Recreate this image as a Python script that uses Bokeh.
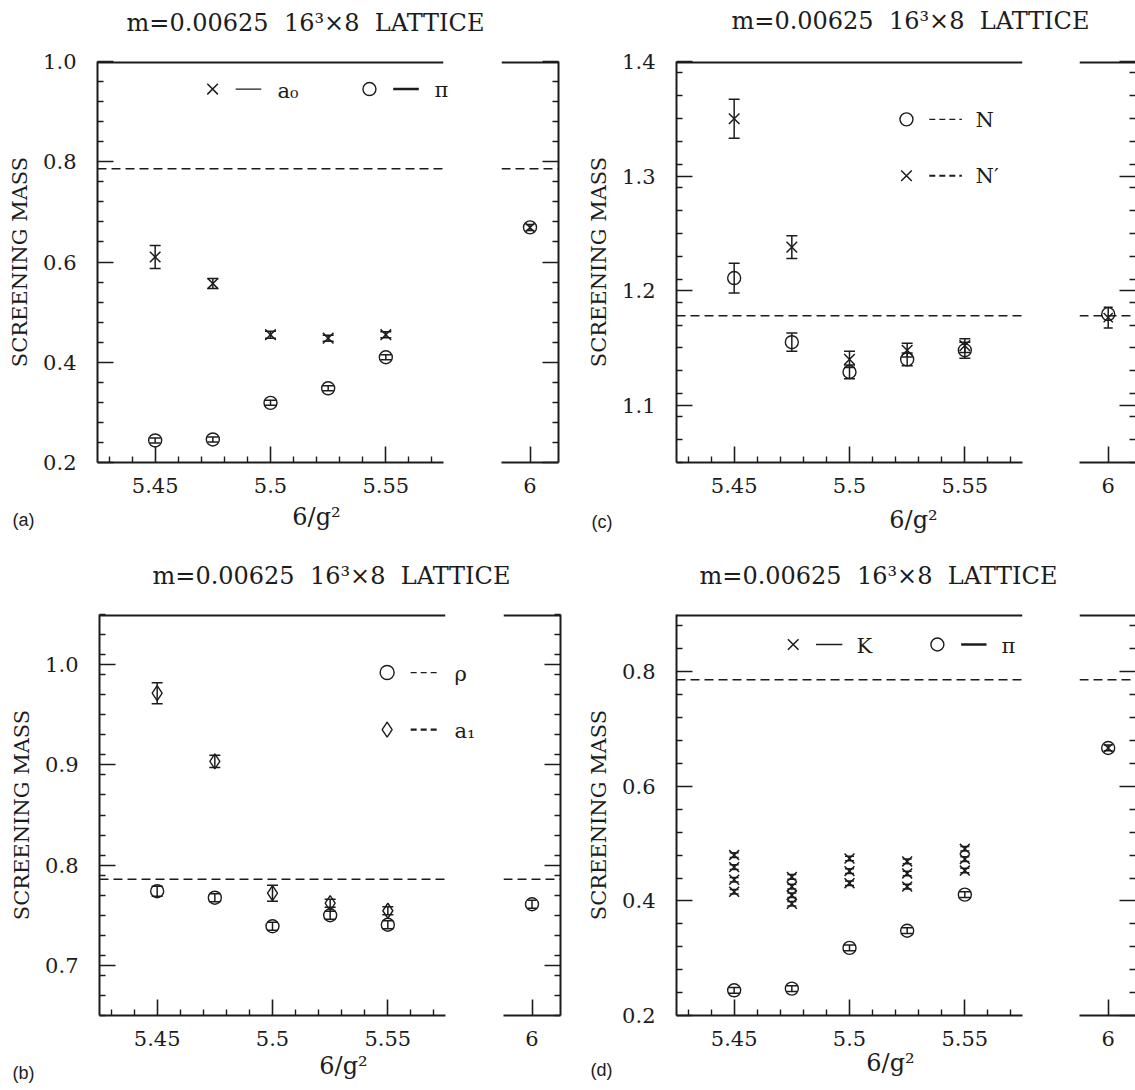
from bokeh.plotting import figure
from bokeh.models import (LinearAxis, FixedTicker, Range1d, Whisker, TeeHead,
                          ColumnDataSource, Span, Label, CustomJSTickFormatter)
from bokeh.layouts import row, column
from bokeh.embed import file_html
from bokeh.resources import INLINE

INK = "#1c1c1c"
SERIF = "DejaVu Serif"
SANS = "Liberation Sans"

# ---------------- data ----------------
beta = [5.45, 5.475, 5.5, 5.525, 5.55]
beta_side = [6.0]

# (a) a0 and pi
a0_mass = [0.610, 0.557, 0.455, 0.448, 0.455]
a0_err = [0.023, 0.010, 0.007, 0.006, 0.006]
pi_mass = [0.244, 0.246, 0.319, 0.348, 0.410]
pi_err = [0.005, 0.005, 0.005, 0.005, 0.005]
a0_side = [0.669]
a0_side_err = [0.006]
pi_side = [0.669]

# (c) N and N'
N_mass = [1.211, 1.155, 1.129, 1.140, 1.148]
N_err = [0.013, 0.008, 0.006, 0.0055, 0.007]
Np_mass = [1.350, 1.238, 1.140, 1.148, 1.152]
Np_err = [0.017, 0.010, 0.007, 0.006, 0.006]
N_side = [1.1795]
Np_side = [1.1765]
Np_side_err = [0.009]

# (b) rho and a1
rho_mass = [0.774, 0.7675, 0.739, 0.750, 0.7405]
rho_err = [0.005, 0.004, 0.004, 0.004, 0.004]
a1_mass = [0.9715, 0.9035, 0.772, 0.762, 0.7545]
a1_err = [0.0105, 0.006, 0.008, 0.004, 0.004]
rho_side = [0.761]
a1_side_err = [0.004]

# (d) K (several operators per coupling) and pi
K_beta = [5.45, 5.45, 5.45, 5.45,
          5.475, 5.475, 5.475, 5.475,
          5.5, 5.5, 5.5,
          5.525, 5.525, 5.525,
          5.55, 5.55, 5.55]
K_mass = [0.416, 0.437, 0.459, 0.480,
          0.395, 0.410, 0.425, 0.442,
          0.431, 0.452, 0.474,
          0.425, 0.448, 0.469,
          0.453, 0.473, 0.491]
K_err = [0.004] * 17
pi_d_mass = [0.244, 0.247, 0.318, 0.348, 0.411]
pi_d_err = [0.005, 0.005, 0.005, 0.005, 0.005]
K_side = [0.667]
pi_d_side = [0.667]
pi_d_side_err = [0.005]

# free-quark reference values (dashed lines)
free_meson = 0.786
free_baryon = 1.178

# axes
x_range_main = (5.425, 5.575)
x_major = [5.45, 5.5, 5.55]
x_major_labels = ["5.45", "5.5", "5.55"]
x_minor = [5.43, 5.44, 5.46, 5.47, 5.48, 5.49, 5.51, 5.52, 5.53, 5.54, 5.56, 5.57]
side_major = [6.0]
side_labels = ["6"]

ya_major = [0.2, 0.4, 0.6, 0.8, 1.0]
ya_labels = ["0.2", "0.4", "0.6", "0.8", "1.0"]
yc_major = [1.1, 1.2, 1.3, 1.4]
yc_labels = ["1.1", "1.2", "1.3", "1.4"]
yb_major = [0.7, 0.8, 0.9, 1.0]
yb_labels = ["0.7", "0.8", "0.9", "1.0"]
yd_major = [0.2, 0.4, 0.6, 0.8]
yd_labels = ["0.2", "0.4", "0.6", "0.8"]

NB = "\u00a0"
TITLE = "m=0.00625" + NB + NB + "16³×8" + NB + NB + "LATTICE"
XLABEL = "6/g²"
YLABEL = "SCREENING MASS"

FRAME_W = 346
HEADER_H = 45
ROW_H = 500


def minor_list(lo, hi, step, majors):
    out = []
    n = int(round((hi - lo) / step))
    for i in range(n + 1):
        v = round(lo + i * step, 4)
        if all(abs(v - m) > 1e-6 for m in majors):
            out.append(v)
    return out


def style_axis(ax):
    ax.axis_line_color = INK
    ax.axis_line_width = 2
    ax.major_tick_line_color = INK
    ax.major_tick_line_width = 1.6
    ax.major_tick_in = 16
    ax.major_tick_out = 0
    ax.minor_tick_line_color = INK
    ax.minor_tick_line_width = 1.4
    ax.minor_tick_in = 6
    ax.minor_tick_out = 0
    ax.major_label_text_font = SERIF
    ax.major_label_text_font_size = "21px"
    ax.major_label_text_color = INK


def errbars(p, xs, ms, es, head=11):
    src = ColumnDataSource(dict(x=list(xs),
                                upper=[m + e for m, e in zip(ms, es)],
                                lower=[m - e for m, e in zip(ms, es)]))
    w = Whisker(source=src, base="x", upper="upper", lower="lower",
                dimension="height", line_color=INK, line_width=1.5,
                upper_head=TeeHead(size=head, line_color=INK, line_width=1.5),
                lower_head=TeeHead(size=head, line_color=INK, line_width=1.5))
    p.add_layout(w)


def header(centres):
    """Strip above a row of panels that carries the panel titles."""
    h = figure(width=1135, height=HEADER_H, x_range=Range1d(0, 1135),
               y_range=Range1d(HEADER_H, 0), output_backend="svg",
               toolbar_location=None, title_location=None,
               x_axis_type=None, y_axis_type=None,
               min_border_left=0, min_border_right=0,
               min_border_top=0, min_border_bottom=0)
    h.outline_line_color = None
    h.background_fill_color = "white"
    h.border_fill_color = "white"
    for cx, cy in centres:
        h.add_layout(Label(x=cx, y=cy, text=TITLE, text_font=SERIF,
                           text_font_size="24px", text_color=INK,
                           text_align="center", text_baseline="middle"))
    return h


def base_fig(width, xr, yr, bl, br, bt, bb):
    p = figure(width=width, height=ROW_H, x_range=Range1d(*xr), y_range=Range1d(*yr),
               output_backend="svg", toolbar_location=None, title_location=None,
               x_axis_type=None, y_axis_type=None,
               min_border_left=bl, min_border_right=br,
               min_border_top=bt, min_border_bottom=bb)
    p.outline_line_color = None
    p.background_fill_color = "white"
    p.border_fill_color = "white"
    # top frame line (half of it falls inside the frame)
    p.segment([xr[0]], [yr[1]], [xr[1]], [yr[1]], line_color=INK, line_width=4)
    return p


def main_fig(width, yr, ymaj, ylab, ystep, bl, br, bt, bb):
    p = base_fig(width, x_range_main, yr, bl, br, bt, bb)
    xa = LinearAxis(ticker=FixedTicker(ticks=x_major, minor_ticks=x_minor),
                    major_label_overrides=dict(zip(x_major, x_major_labels)))
    style_axis(xa)
    xa.major_label_standoff = 15
    p.add_layout(xa, "below")
    ya = LinearAxis(ticker=FixedTicker(ticks=ymaj,
                                       minor_ticks=minor_list(yr[0], yr[1], ystep, ymaj)),
                    major_label_overrides=dict(zip(ymaj, ylab)))
    style_axis(ya)
    ya.major_label_standoff = 21
    ya.axis_label = YLABEL
    ya.axis_label_text_font = SERIF
    ya.axis_label_text_font_size = "21px"
    ya.axis_label_text_font_style = "normal"
    ya.axis_label_text_color = INK
    ya.axis_label_standoff = 8
    p.add_layout(ya, "left")
    return p


def side_fig(width, xr, yr, ymaj, ystep, br, bt, bb, show_right_line=True):
    p = base_fig(width, xr, yr, 0, br, bt, bb)
    xa = LinearAxis(ticker=FixedTicker(ticks=side_major, minor_ticks=[]),
                    major_label_overrides=dict(zip(side_major, side_labels)))
    style_axis(xa)
    xa.major_label_standoff = 15
    p.add_layout(xa, "below")
    ra = LinearAxis(ticker=FixedTicker(ticks=ymaj,
                                       minor_ticks=minor_list(yr[0], yr[1], ystep, ymaj)),
                    formatter=CustomJSTickFormatter(code="return ''"))
    style_axis(ra)
    ra.major_label_standoff = 0
    if not show_right_line:
        ra.axis_line_color = None
    p.add_layout(ra, "right")
    return p


def dashed(p, val):
    p.add_layout(Span(location=val, dimension="width", line_color=INK,
                      line_width=1.5, line_dash="9 5"))


class Panel:
    """Pixel <-> data helper for text placement around a main frame."""
    def __init__(self, fig, left, top, height, yr):
        self.p = fig
        self.left = left
        self.top = top
        self.h = height
        self.yr = yr

    def xd(self, px):
        return x_range_main[0] + (px - self.left) * (x_range_main[1] - x_range_main[0]) / FRAME_W

    def yd(self, py):
        return self.yr[1] - (py - self.top) * (self.yr[1] - self.yr[0]) / self.h

    def text(self, px, py, s, place="center", size="21px", font=SERIF, align="left"):
        lab = Label(x=self.xd(px), y=self.yd(py), text=s, text_font=font,
                    text_font_size=size, text_color=INK, text_align=align,
                    text_baseline="middle")
        self.p.add_layout(lab, place)


def circles(p, xs, ys, size=13):
    p.scatter(xs, ys, marker="circle", size=size, fill_color=None,
              line_color=INK, line_width=1.4)


def crosses(p, xs, ys, size=15):
    p.scatter(xs, ys, marker="x", size=size, line_color=INK, line_width=1.5)


def diamonds(p, xs, ys, size=15):
    p.scatter(xs, ys, marker="diamond", size=size, fill_color=None,
              line_color=INK, line_width=1.4)


side_xr_full = (5.9876, 6.0124)
side_xr_cut = (5.98752, 6.01187)

# ---------------- (a) ----------------
fa = main_fig(501, (0.2, 1.0), ya_major, ya_labels, 0.04, 97, 58, 61 - HEADER_H, 82)
A = Panel(fa, 97, 61, 402, (0.2, 1.0))
dashed(fa, free_meson)
errbars(fa, beta, a0_mass, a0_err)
errbars(fa, beta, pi_mass, pi_err)
crosses(fa, beta, a0_mass)
circles(fa, beta, pi_mass)
crosses(fa, [5.4749], [0.945])
fa.segment([5.4849], [0.945], [5.4960], [0.945], line_color=INK, line_width=1.3)
circles(fa, [5.5429], [0.945])
fa.segment([5.5532], [0.945], [5.5643], [0.945], line_color=INK, line_width=2.4)
A.text(277, 91, "a₀")
A.text(434, 90, "π", place="right")
A.text(12, 521, "(a)", place="right", size="18px", font=SANS)
A.text(316, 518, XLABEL, place="below", size="24px", align="center")

fa_s = side_fig(78, side_xr_full, (0.2, 1.0), ya_major, 0.04, 21, 61 - HEADER_H, 82)
dashed(fa_s, free_meson)
errbars(fa_s, beta_side, a0_side, a0_side_err, head=9)
crosses(fa_s, beta_side, a0_side, size=12)
circles(fa_s, beta_side, pi_side, size=13)

# ---------------- (c) ----------------
fc = main_fig(500, (1.05, 1.4), yc_major, yc_labels, 0.02, 97, 57, 60 - HEADER_H, 83)
C = Panel(fc, 676, 60, 402, (1.05, 1.4))
dashed(fc, free_baryon)
errbars(fc, beta, Np_mass, Np_err)
errbars(fc, beta, N_mass, N_err)
crosses(fc, beta, Np_mass)
circles(fc, beta, N_mass)
circles(fc, [5.5247], [1.3495])
fc.segment([5.5346], [1.3495], [5.5487], [1.3495], line_color=INK, line_width=1.3, line_dash="6 4")
crosses(fc, [5.5247], [1.3003])
fc.segment([5.5346], [1.3003], [5.5487], [1.3003], line_color=INK, line_width=2.2, line_dash="6 4")
C.text(975, 119, "N")
C.text(975, 175, "N′")
C.text(591, 522, "(c)", place="right", size="18px", font=SANS)
C.text(913, 520, XLABEL, place="below", size="24px", align="center")

fc_s = side_fig(56, side_xr_cut, (1.05, 1.4), yc_major, 0.02, 0, 60 - HEADER_H, 83,
                show_right_line=False)
dashed(fc_s, free_baryon)
errbars(fc_s, beta_side, Np_side, Np_side_err, head=9)
crosses(fc_s, beta_side, Np_side, size=13)
circles(fc_s, beta_side, N_side, size=13)

# ---------------- (b) ----------------
fb = main_fig(503, (0.65, 1.05), yb_major, yb_labels, 0.02, 99, 58, 67 - HEADER_H, 75)
B = Panel(fb, 99, 612, 403, (0.65, 1.05))
dashed(fb, free_meson)
errbars(fb, beta, a1_mass, a1_err)
errbars(fb, beta, rho_mass, rho_err)
diamonds(fb, beta, a1_mass)
circles(fb, beta, rho_mass)
circles(fb, [5.5497], [0.9921], size=14)
fb.segment([5.5599], [0.9921], [5.5728], [0.9921], line_color=INK, line_width=1.3, line_dash="6 4")
diamonds(fb, [5.5497], [0.9352])
fb.segment([5.5599], [0.9352], [5.5728], [0.9352], line_color=INK, line_width=2.2, line_dash="6 4")
B.text(454, 672, "ρ", place="right")
B.text(454, 729, "a₁", place="right")
B.text(12, 1073, "(b)", place="right", size="18px", font=SANS)
B.text(343, 1066, XLABEL, place="below", size="24px", align="center")

fb_s = side_fig(76, side_xr_full, (0.65, 1.05), yb_major, 0.02, 19, 67 - HEADER_H, 75)
dashed(fb_s, free_meson)
errbars(fb_s, beta_side, rho_side, a1_side_err, head=9)
circles(fb_s, beta_side, rho_side, size=13)

# ---------------- (d) ----------------
fd = main_fig(500, (0.2, 0.9), yd_major, yd_labels, 0.04, 97, 57, 69 - HEADER_H, 72)
D = Panel(fd, 676, 614, 404, (0.2, 0.9))
dashed(fd, free_meson)
errbars(fd, beta, pi_d_mass, pi_d_err)
errbars(fd, K_beta, K_mass, K_err, head=9)
crosses(fd, K_beta, K_mass, size=14)
circles(fd, beta, pi_d_mass)
crosses(fd, [5.4756], [0.8476])
fd.segment([5.4855], [0.8476], [5.4969], [0.8476], line_color=INK, line_width=1.3)
circles(fd, [5.5381], [0.8476])
fd.segment([5.5484], [0.8476], [5.5594], [0.8476], line_color=INK, line_width=2.4)
D.text(856, 646, "K")
D.text(1001, 646, "π", place="right")
D.text(590, 1073, "(d)", place="right", size="18px", font=SANS)
D.text(890, 1066, XLABEL, place="below", size="24px", align="center")

fd_s = side_fig(56, side_xr_cut, (0.2, 0.9), yd_major, 0.04, 0, 69 - HEADER_H, 72,
                show_right_line=False)
dashed(fd_s, free_meson)
errbars(fd_s, beta_side, pi_d_side, pi_d_side_err, head=9)
crosses(fd_s, beta_side, K_side, size=12)
circles(fd_s, beta_side, pi_d_side, size=13)

head_top = header([(305, 22), (910, 20)])
head_bottom = header([(331, 30), (878, 30)])

layout = column(head_top,
                row(fa, fa_s, fc, fc_s, spacing=0),
                head_bottom,
                row(fb, fb_s, fd, fd_s, spacing=0), spacing=0)

open("out.html", "w").write(file_html(layout, INLINE))
